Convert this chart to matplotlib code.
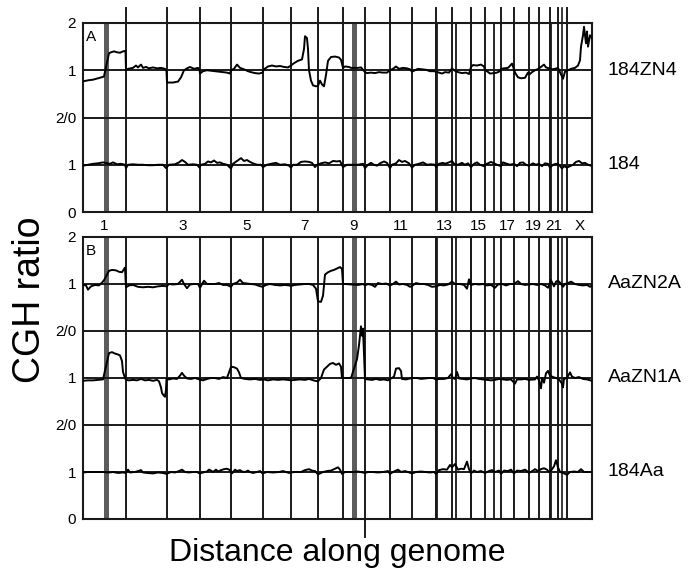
import numpy as np
import matplotlib.pyplot as plt

plt.rcParams['font.family'] = ['Liberation Sans', 'DejaVu Sans']

# chromosome lengths along the genome axis (arbitrary genome units)
chrom_names = ['1', '2', '3', '4', '5', '6', '7', '8', '9', '10', '11', '12',
               '13', '14', '15', '16', '17', '18', '19', '20', '21', '22', 'X']
chrom_len = [43, 40.5, 33, 31.5, 31.5, 28.5, 27, 25, 22, 25, 22, 24,
             16, 19, 14, 16, 13, 15, 9.5, 11.5, 8, 9, 25]
labelled = ['1', '3', '5', '7', '9', '11', '13', '15', '17', '19', '21', 'X']

# excluded heterochromatin blocks (start, end) in genome units
hetero_wide = [(21, 26), (269, 274)]
hetero_thin = [(352, 355.5), (372, 374.5), (387, 389.5), (410, 412.5), (465.5, 468.5)]
extra_lines = [479]

# profiles: genome position, ratio
zn4_x = [1, 6, 10, 15, 20, 21, 26, 28, 31, 34, 37, 40, 42.5, 43, 45, 50, 53, 55, 58, 60,
         63, 66, 70, 74, 78, 82, 83.5, 84, 90, 95, 98, 101, 104, 107, 111, 115, 116.5, 117,
         120, 124, 128, 132, 136, 140, 144, 147, 148, 151, 154, 157, 161, 165, 168, 172,
         176, 179.5, 181, 185, 189, 193, 197, 201, 205, 208, 211, 215, 219, 221, 222, 224,
         225, 226, 228, 230, 233, 235, 237, 239, 241, 243, 245, 248, 252, 256, 258, 260,
         262, 266, 268, 275, 278, 282, 284, 288, 292, 296, 300, 304, 307, 310, 313, 316,
         320, 324, 327, 329, 332, 335, 339, 343, 347, 351, 353, 356, 359, 362, 366, 369,
         371, 375, 379, 383, 386, 388, 390, 394, 398, 401, 402, 404, 407, 411, 414, 417,
         418, 421, 425, 429, 431, 432, 435, 438, 442, 445, 447, 449, 452, 455.5, 458, 461,
         463, 466, 469, 472, 475, 477, 480, 482, 485, 488, 492, 495, 497, 498, 500, 501,
         503, 504, 505, 507, 509]
zn4_y = [0.77, 0.79, 0.80, 0.83, 0.86, 0.87, 1.36, 1.38, 1.40, 1.38, 1.37, 1.40, 1.41, 1.0,
         1.03, 1.05, 1.10, 1.06, 1.12, 1.05, 1.07, 1.04, 1.06, 1.04, 1.05, 1.03, 0.98, 0.74,
         0.74, 0.76, 0.85, 1.0, 1.04, 1.07, 1.03, 1.05, 1.0, 0.93, 0.98, 1.0, 0.99, 0.98,
         0.97, 0.96, 0.95, 0.93, 1.0, 1.03, 1.12, 1.05, 1.02, 0.98, 0.96, 0.94, 0.93, 0.95,
         1.02, 1.08, 1.10, 1.08, 1.09, 1.07, 1.06, 1.10, 1.15, 1.20, 1.23, 1.45, 1.72, 1.68,
         1.45, 1.0, 0.78, 0.68, 0.66, 0.67, 0.78, 0.70, 0.66, 0.90, 1.20, 1.28, 1.29, 1.27,
         1.22, 1.05, 1.08, 1.07, 1.05, 1.05, 1.06, 0.96, 0.94, 0.95, 0.94, 0.96, 0.95, 0.95,
         1.00, 1.03, 1.08, 1.03, 1.05, 1.04, 1.02, 0.97, 1.0, 1.03, 1.02, 1.01, 0.98, 0.98,
         0.97, 0.95, 0.93, 0.96, 0.95, 1.04, 1.00, 0.96, 0.94, 0.95, 0.92, 1.07, 1.11, 1.10,
         1.12, 1.08, 1.0, 0.98, 0.93, 0.94, 0.95, 0.98, 1.03, 1.04, 1.05, 1.14, 1.02, 0.95,
         0.85, 0.83, 0.84, 0.95, 0.92, 0.96, 1.0, 1.03, 1.07, 1.12, 1.06, 1.04, 1.02, 1.03,
         1.05, 0.96, 0.82, 0.97, 1.0, 1.03, 1.05, 1.10, 1.21, 1.50, 1.74, 1.92, 1.57, 1.82,
         1.50, 1.74, 1.68]

p184_x = [0, 5, 10, 15, 20, 27, 30, 34, 38, 42, 43, 45, 50, 55, 60, 65, 70, 75, 80, 83, 86,
          92, 96, 99, 102, 105, 110, 114, 116.5, 118, 122, 125, 128, 131, 134, 137, 140, 144,
          148, 150, 154, 158, 161, 164, 167, 170, 174, 178, 180, 184, 188, 193, 197, 202, 206,
          208, 210, 214, 218, 222, 226, 229, 232, 234, 238, 242, 246, 250, 254, 257, 260, 264,
          268, 275, 280, 282, 285, 288, 291, 294, 297, 301, 304, 307, 309, 313, 316, 319, 322,
          326, 329, 332, 336, 340, 344, 348, 352, 353, 356, 360, 362, 366, 369, 371, 375, 379,
          382, 385, 388, 391, 394, 397, 401, 402, 405, 408, 411, 414, 418, 420, 424, 427, 431,
          434, 437, 440, 443, 446, 450, 453, 456, 459, 462, 465, 467, 470, 473, 476, 479, 481,
          484, 487, 490, 493, 496, 499, 502, 505, 508, 509]
p184_y = [0.98, 1.0, 1.02, 1.03, 1.05, 1.02, 1.05, 1.01, 1.02, 1.0, 0.93, 1.0, 1.01, 1.0, 1.0,
          0.99, 0.99, 1.0, 1.0, 0.93, 1.0, 1.01, 1.05, 1.10, 1.06, 1.0, 1.01, 1.0, 0.94, 1.0,
          1.02, 1.07, 1.05, 1.09, 1.04, 1.05, 1.02, 1.0, 0.92, 1.02, 1.08, 1.14, 1.08, 1.10,
          1.06, 1.03, 1.0, 1.0, 0.95, 1.0, 1.02, 1.04, 1.0, 1.01, 0.98, 0.94, 1.0, 1.0, 1.06,
          1.07, 1.06, 1.04, 0.95, 1.0, 1.03, 1.05, 1.03, 1.08, 1.07, 1.08, 0.95, 1.0, 1.0, 1.0,
          1.02, 0.93, 1.0, 1.04, 1.0, 0.98, 1.03, 1.07, 1.04, 0.93, 1.0, 1.03, 1.10, 1.06, 1.08,
          1.03, 0.94, 1.0, 1.02, 1.05, 1.0, 1.01, 1.0, 0.95, 1.02, 1.04, 1.02, 1.05, 1.08, 1.02,
          1.0, 1.04, 1.0, 1.03, 0.95, 1.02, 1.05, 1.0, 0.97, 1.0, 1.03, 1.06, 1.03, 1.0, 0.97,
          1.05, 1.02, 1.0, 1.02, 0.97, 1.04, 1.05, 1.0, 0.98, 1.03, 1.0, 1.02, 0.97, 1.03, 1.02,
          0.94, 1.0, 1.02, 1.0, 0.92, 0.97, 0.94, 0.97, 1.0, 1.06, 1.08, 1.03, 1.04, 1.0, 0.98,
          0.97]

zn2a_x = [0, 3, 5, 8, 12, 16, 19, 21, 26, 29, 33, 36, 39, 42, 43, 46, 50, 55, 60, 65, 70, 75,
          80, 83.5, 86, 90, 95, 99, 101, 104, 107, 111, 115, 117, 121, 124, 128, 132, 136, 140,
          144, 148, 150, 154, 157, 160, 164, 168, 172, 176, 179.5, 183, 187, 192, 197, 202,
          206, 208, 212, 217, 222, 226, 230, 233, 235, 238, 240, 242, 245, 248, 251, 254, 257,
          259, 260, 263, 268, 275, 280, 282, 285, 289, 292, 295, 299, 303, 307, 310, 313, 316,
          320, 324, 327, 329, 333, 337, 341, 345, 349, 353, 357, 361, 365, 369, 372, 377, 381,
          384, 386, 388, 392, 396, 400, 404, 408, 412, 415, 419, 423, 427, 431, 435, 438, 442,
          446, 450, 454, 458, 462, 465, 468, 471, 473, 475, 477, 480, 482, 485, 488, 492, 496,
          500, 504, 507, 509]
zn2a_y = [0.98, 0.97, 0.88, 0.95, 0.98, 0.97, 1.03, 1.08, 1.28, 1.30, 1.29, 1.26, 1.25, 1.35,
          0.93, 0.97, 0.98, 0.94, 0.93, 0.94, 0.93, 0.95, 0.96, 0.95, 1.0, 0.99, 1.0, 1.09, 1.0,
          0.91, 0.99, 1.0, 1.0, 0.92, 1.07, 1.0, 1.0, 1.0, 1.02, 0.98, 0.98, 0.94, 1.0, 1.03,
          1.09, 1.02, 1.01, 1.0, 0.99, 0.96, 0.94, 0.98, 1.0, 0.98, 0.97, 0.98, 0.97, 0.96,
          0.98, 0.99, 1.0, 1.0, 0.98, 0.90, 0.63, 0.62, 0.75, 1.20, 1.25, 1.28, 1.30, 1.33,
          1.36, 1.32, 1.0, 1.0, 0.99, 0.98, 1.0, 0.97, 1.0, 0.98, 0.94, 1.02, 1.0, 1.01, 0.97,
          1.0, 1.05, 0.99, 1.0, 0.98, 0.94, 0.96, 1.02, 1.0, 1.0, 0.98, 0.94, 0.95, 0.98, 0.97,
          0.99, 1.05, 1.0, 1.0, 0.98, 0.90, 1.10, 0.98, 1.0, 0.99, 1.0, 0.97, 0.98, 0.92, 0.99,
          1.0, 0.97, 1.0, 1.0, 1.06, 1.0, 0.98, 0.99, 1.0, 0.98, 1.0, 0.97, 0.92, 1.08, 0.95,
          1.05, 1.07, 1.03, 0.94, 1.0, 1.02, 1.05, 1.0, 0.98, 0.97, 0.98, 0.94, 0.97]

zn1a_x = [0, 5, 10, 15, 20, 26, 29, 32, 35, 37, 39, 40, 42, 43, 46, 50, 54, 58, 62, 66, 70,
          74, 76, 78, 79, 81, 82, 83, 83.5, 86, 90, 94, 97, 99, 101, 104, 108, 112, 116.5, 120,
          124, 128, 132, 136, 140, 144, 148, 151, 154, 156, 158, 162, 167, 172, 177, 181, 185,
          190, 195, 200, 205, 208, 212, 217, 222, 226, 232, 235, 238, 241, 244, 247, 250, 253,
          256, 258, 259, 262, 265, 268, 274, 276, 278, 279, 280, 281, 282, 285, 289, 293, 297,
          301, 305, 308, 311, 313, 316, 318, 319, 323, 327, 330, 334, 338, 342, 346, 350, 353,
          357, 361, 365, 368, 370, 372, 374, 376, 380, 384, 388, 392, 396, 400, 404, 408, 412,
          416, 420, 424, 428, 432, 434, 438, 442, 446, 452, 454, 456, 458, 459, 461, 463, 465,
          467, 470, 473, 476, 479, 480, 481, 484, 487, 489, 492, 496, 500, 504, 509]
zn1a_y = [0.94, 0.95, 0.95, 0.96, 0.97, 1.53, 1.55, 1.52, 1.50, 1.48, 1.36, 1.13, 1.0, 0.96,
          0.95, 0.96, 0.95, 0.98, 0.95, 0.96, 0.94, 0.96, 0.93, 0.80, 0.68, 0.62, 0.60, 0.75,
          0.98, 0.97, 0.99, 0.98, 1.05, 1.11, 1.05, 0.99, 0.98, 1.0, 0.97, 0.95, 0.98, 1.0, 1.0,
          0.98, 1.02, 1.0, 1.24, 1.23, 1.20, 1.12, 1.0, 0.98, 0.97, 0.98, 0.96, 0.97, 0.95,
          0.97, 0.96, 0.97, 0.96, 0.95, 0.96, 0.97, 0.96, 0.98, 0.94, 0.93, 1.0, 1.18, 1.24,
          1.30, 1.32, 1.28, 1.31, 1.24, 1.0, 1.0, 1.0, 1.0, 1.40, 1.70, 2.10, 1.90, 2.05, 1.50,
          0.98, 0.97, 0.96, 0.98, 0.96, 0.97, 0.95, 0.99, 1.03, 1.20, 1.21, 1.15, 0.98, 0.97,
          0.99, 1.0, 1.0, 0.98, 0.99, 1.0, 1.0, 0.97, 0.98, 0.98, 1.0, 1.08, 1.0, 0.98, 1.13,
          0.99, 0.98, 0.97, 0.99, 1.0, 0.98, 0.97, 0.96, 0.95, 0.96, 0.98, 0.97, 0.96, 0.97,
          0.88, 0.97, 0.97, 0.98, 0.96, 0.97, 1.03, 0.95, 0.78, 1.0, 0.90, 1.10, 1.15, 1.05,
          1.02, 1.0, 0.97, 0.88, 0.80, 0.98, 1.0, 1.12, 1.03, 1.0, 1.02, 0.98, 0.97, 0.94]

aa_x = [0, 5, 10, 15, 20, 26, 30, 35, 40, 43, 45, 47, 52, 58, 60, 64, 70, 75, 80, 83.5, 88,
        92, 96, 99, 102, 106, 110, 114, 116.5, 120, 124, 126, 128, 130, 133, 135, 138, 141, 144,
        147, 149, 152, 154, 157, 159, 162, 165, 167, 170, 174, 177, 179.5, 184, 190, 196, 200,
        206, 208, 212, 218, 222, 226, 229, 232, 235, 240, 244, 248, 252, 255, 257, 259, 262,
        268, 275, 282, 285, 290, 295, 300, 305, 307, 310, 315, 318, 322, 326, 329, 333, 338,
        343, 347, 351, 353, 356, 360, 364, 367, 369, 372, 375, 378, 381, 384, 386, 388, 391,
        394, 398, 402, 406, 409, 412, 416, 418, 421, 425, 428, 431, 434, 438, 442, 444, 446,
        450, 452, 455, 458, 461, 464, 466, 468, 471, 473, 475, 477, 480, 484, 487, 491, 495,
        498, 501, 505, 509]
aa_y = [0.99, 1.0, 1.0, 1.0, 1.0, 0.99, 1.0, 0.98, 0.99, 0.98, 1.05, 0.99, 1.0, 1.04, 0.99,
        0.98, 0.97, 0.99, 0.98, 0.96, 1.0, 0.99, 1.02, 1.05, 1.0, 0.99, 1.0, 1.0, 0.97, 0.99,
        1.01, 1.05, 1.03, 1.0, 1.05, 1.01, 1.04, 1.06, 1.07, 1.04, 0.97, 1.05, 1.02, 1.04,
        1.01, 1.0, 1.03, 1.0, 0.98, 1.0, 1.02, 0.97, 1.0, 0.99, 1.0, 1.02, 0.98, 0.99, 1.0,
        1.0, 1.04, 1.06, 1.03, 1.02, 0.95, 1.0, 1.02, 1.03, 1.07, 1.10, 1.05, 0.96, 1.0, 1.0,
        1.01, 0.98, 1.0, 1.0, 0.99, 1.0, 1.02, 0.96, 1.0, 1.05, 1.0, 1.02, 0.99, 0.97, 1.0,
        1.01, 1.0, 0.99, 1.0, 0.96, 1.04, 1.06, 1.05, 1.15, 1.10, 1.17, 1.05, 1.07, 1.06, 1.22,
        1.06, 0.97, 1.03, 1.0, 1.02, 0.98, 1.02, 1.04, 1.0, 1.03, 0.96, 1.03, 1.02, 1.05, 0.97,
        1.03, 1.02, 1.05, 1.02, 0.98, 1.03, 1.06, 1.02, 1.06, 1.08, 1.05, 1.0, 1.03, 1.12,
        1.25, 1.10, 1.0, 0.98, 0.94, 1.0, 1.01, 1.0, 1.06, 1.0, 1.0, 1.0]

panel_a = [('184ZN4', zn4_x, zn4_y, 2), ('184', p184_x, p184_y, 0)]
panel_b = [('AaZN2A', zn2a_x, zn2a_y, 4), ('AaZN1A', zn1a_x, zn1a_y, 2),
           ('184Aa', aa_x, aa_y, 0)]

bounds = np.concatenate([[0], np.cumsum(chrom_len)])
centers = (bounds[:-1] + bounds[1:]) / 2
total = bounds[-1]

fig = plt.figure(figsize=(7, 5.79), dpi=100)
ax_a = fig.add_axes([83/700, 1-212/579, 509/700, 189/579])
ax_b = fig.add_axes([83/700, 1-519/579, 509/700, 282/579])


def draw_panel(ax, profiles, nlev, letter, top_ext):
    ax.set_xlim(0, total)
    ax.set_ylim(0, nlev)
    for lo, hi in hetero_wide:
        ax.axvspan(lo, hi, color='#5c5c5c', lw=0, zorder=1)
    for lo, hi in hetero_thin:
        ax.axvspan(lo, hi, color='#2e2e2e', lw=0, zorder=1)
    for b in bounds[1:-1]:
        ax.plot([b, b], [0, nlev + top_ext], color='#1a1a1a', lw=1.4,
                clip_on=False, zorder=2)
    for e in extra_lines:
        ax.plot([e, e], [0, nlev + top_ext], color='#1a1a1a', lw=1.2,
                clip_on=False, zorder=2)
    for lev in range(1, nlev):
        ax.axhline(lev, color='#1a1a1a', lw=1.4, zorder=2)
    for name, xs, ys, off in profiles:
        ax.plot(xs, np.array(ys) + off, color='black', lw=1.4, zorder=3)
        ax.text(total + 16, off + 1, name, fontsize=14, ha='left', va='center')
    ax.text(3, nlev - 0.3, letter, fontsize=11, ha='left', va='center')
    labels = []
    for i in range(nlev + 1):
        if i == nlev:
            labels.append('2')
        elif i == 0:
            labels.append('0')
        elif i % 2 == 1:
            labels.append('1')
        else:
            labels.append('2/0')
    ax.set_yticks(range(nlev + 1))
    ax.set_yticklabels(labels, fontsize=11)
    ax.tick_params(axis='y', length=0, pad=5)
    for s in ax.spines.values():
        s.set_linewidth(1.5)
        s.set_color('#1a1a1a')


draw_panel(ax_a, panel_a, 4, 'A', 0.32)
draw_panel(ax_b, panel_b, 6, 'B', 0)

idx = [chrom_names.index(c) for c in labelled]
ax_a.set_xticks(centers[idx])
ax_a.set_xticklabels(labelled, fontsize=11)
ax_a.tick_params(axis='x', length=0, pad=5)
ax_b.set_xticks([])

# small tick below panel B
ax_b.plot([bounds[9], bounds[9]], [0, -0.38], color='#1a1a1a', lw=1.4, clip_on=False)

fig.text(30/700, 1-300/579, 'CGH ratio', rotation=90, fontsize=27,
         ha='center', va='center')
fig.text(337/700, 1-553/579, 'Distance along genome', fontsize=23,
         ha='center', va='center')

fig.savefig('out.png', dpi=100)
